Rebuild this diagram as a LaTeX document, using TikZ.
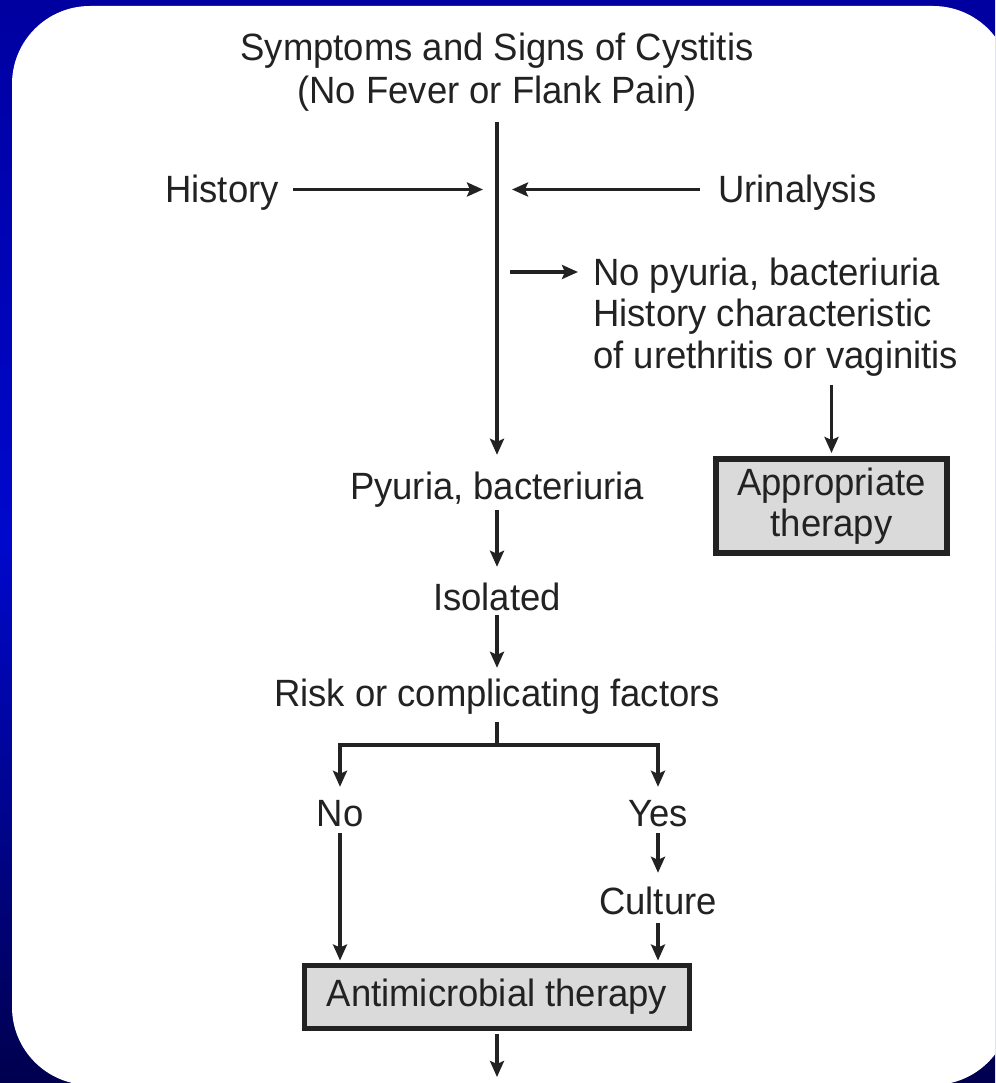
\documentclass[tikz,border=0pt]{standalone}
\usepackage{fontspec}
\setmainfont{Liberation Sans}[FakeStretch=0.96]
\usetikzlibrary{arrows.meta}
\definecolor{ink}{HTML}{222222}
\definecolor{boxfill}{HTML}{DADADA}
\definecolor{bgtop}{HTML}{0000A0}
\definecolor{bgmid}{HTML}{0008CC}
\definecolor{bgbot}{HTML}{00004E}
\begin{document}
\begin{tikzpicture}[x=1pt,y=-1pt,
  txt/.style={inner sep=0pt, text height=27pt, text depth=0pt, text=ink,
    font=\fontsize{38}{41}\selectfont},
  arr/.style={draw=ink, line width=3.6pt, -{Stealth[length=16pt,width=14pt,inset=3pt]}},
  ln/.style={draw=ink, line width=3.6pt},
  tbox/.style={draw=ink, fill=boxfill, line width=6pt, inner sep=0pt, text=ink,
    align=center, font=\fontsize{38}{41}\selectfont}
]
\useasboundingbox (0,0) rectangle (995,1083);
\clip (0,0) rectangle (995,1083);
% background
\shade[top color=bgtop, bottom color=bgbot, middle color=bgmid] (0,0) rectangle (995,1083);
\fill[white, rounded corners=78pt] (12,6) rectangle (1011,1085);

% text nodes
\node[txt, anchor=base] (titleA) at (497,61) {Symptoms and Signs of Cystitis};
\node[txt, anchor=base] (titleB) at (497,104) {(No Fever or Flank Pain)};
\node[txt, anchor=base west] (hist) at (165,203) {History};
\node[txt, anchor=base west] (uri) at (718,203) {Urinalysis};
\node[txt, anchor=base west] (nopA) at (593,285.5) {No pyuria, bacteriuria};
\node[txt, anchor=base west] (nopB) at (593,326.5) {History characteristic};
\node[txt, anchor=base west] (nopC) at (593,368.5) {of urethritis or vaginitis};
\node[txt, anchor=base] (pyu) at (497,499) {Pyuria, bacteriuria};
\node[tbox, minimum width=231pt, minimum height=94pt] (appr) at (831.5,506) {Appropriate\\therapy};
\node[txt, anchor=base] (iso) at (497,610) {Isolated};
\node[txt, anchor=base] (risk) at (497,706) {Risk or complicating factors};
\node[txt, anchor=base] (no) at (340,826) {No};
\node[txt, anchor=base] (yes) at (658,826) {Yes};
\node[txt, anchor=base] (cul) at (658,914) {Culture};
\node[tbox, line width=5pt, minimum width=385pt, minimum height=63pt] (anti) at (497,997) {Antimicrobial therapy};
\coordinate (split) at (497,745);
\coordinate (endpt) at (497,1077);

% connectors
\draw[arr, shorten <=18pt, shorten >=17pt] (titleB.south) -- (pyu.north);
\draw[arr, shorten <=14pt, shorten >=14pt] (hist.east) -- (hist.east -| pyu.north);
\draw[arr, shorten <=18pt, shorten >=15pt] (uri.west) -- (uri.west -| pyu.north);
\draw[arr, shorten <=13pt, shorten >=15pt] (nopA.west -| pyu.north) -- (nopA.west);
\draw[arr, shorten <=16pt, shorten >=3pt] (appr.north |- nopC.south) -- (appr.north);
\draw[arr, shorten <=11pt, shorten >=16pt] (pyu.south) -- (iso.north);
\draw[arr, shorten <=5pt, shorten >=11pt] (iso.south) -- (risk.north);
\draw[ln, shorten <=16pt] (risk.south) -- (split);
\draw[arr, shorten >=12pt] (split) -| (no.north);
\draw[arr, shorten >=12pt] (split) -| (yes.north);
\draw[arr, shorten <=7pt, shorten >=2.5pt] (no.south) -- (no.south |- anti.north);
\draw[arr, shorten <=7pt, shorten >=14pt] (yes.south) -- (cul.north);
\draw[arr, shorten <=9pt, shorten >=2.5pt] (cul.south) -- (cul.south |- anti.north);
\draw[arr, shorten <=2.5pt] (anti.south) -- (endpt);
\end{tikzpicture}
\end{document}
